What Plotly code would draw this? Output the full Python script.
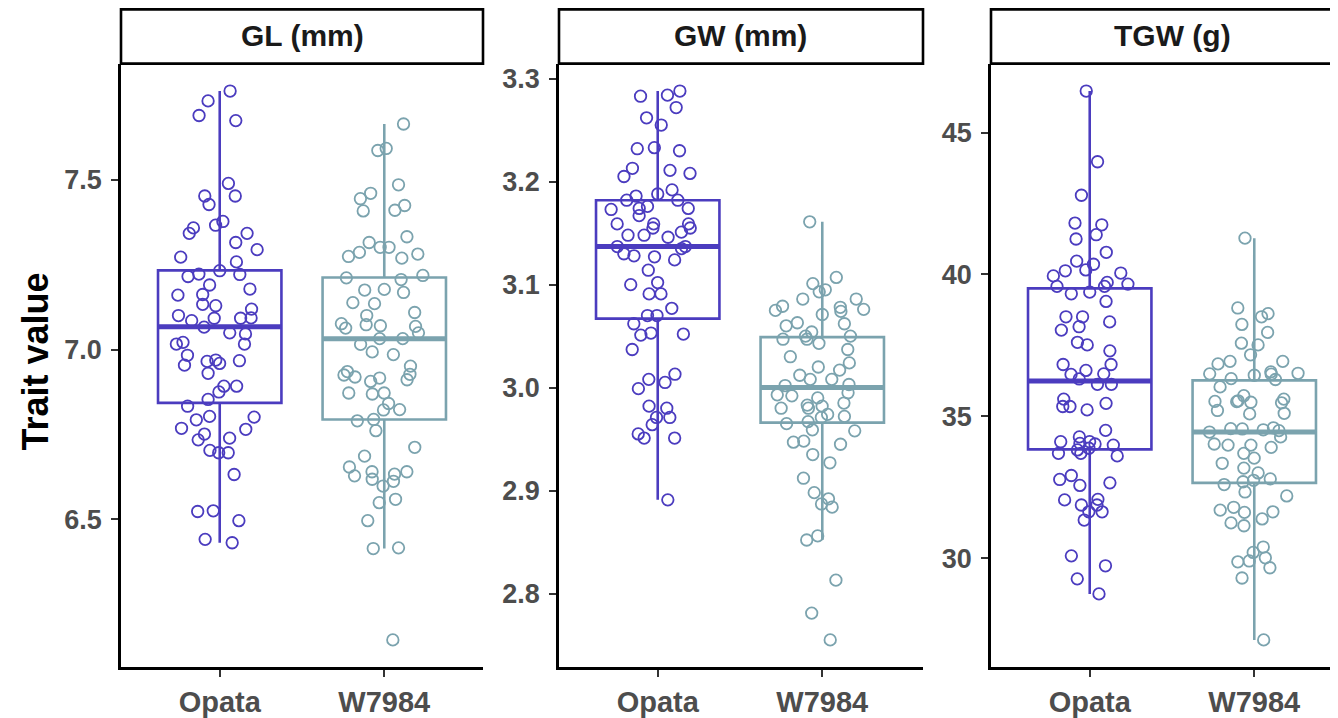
import plotly.graph_objects as go

FONT = "Liberation Sans, Arial, sans-serif"

groups = ["Opata", "W7984"]
colors = ["#4B3CBF", "#7BA3AE"]
traits = ["GL (mm)", "GW (mm)", "TGW (g)"]

gl_opata = [7.761, 7.732, 7.689, 7.674, 7.489, 7.452, 7.452, 7.427, 7.366, 7.377,
            7.342, 7.358, 7.342, 7.315, 7.294, 7.272, 7.258, 7.232, 7.221, 7.222,
            7.215, 7.190, 7.178, 7.160, 7.162, 7.129, 7.133, 7.119, 7.100, 7.092,
            7.092, 7.085, 7.093, 7.066, 7.046, 7.049, 7.021, 7.016, 7.016, 6.965,
            6.954, 6.930, 6.959, 6.969, 6.967, 6.983, 6.892, 6.892, 6.875, 6.853,
            6.833, 6.801, 6.803, 6.793, 6.765, 6.768, 6.751, 6.734, 6.739, 6.696,
            6.696, 6.703, 6.632, 6.525, 6.523, 6.496, 6.441, 6.431]
gl_w7984 = [7.664, 7.586, 7.592, 7.485, 7.460, 7.444, 7.424, 7.408, 7.410, 7.332,
            7.315, 7.301, 7.286, 7.281, 7.274, 7.269, 7.301, 7.206, 7.211, 7.218,
            7.175, 7.177, 7.168, 7.135, 7.138, 7.109, 7.100, 7.063, 7.070, 7.076,
            7.068, 7.073, 7.049, 7.032, 7.015, 7.032, 6.993, 6.985, 6.951, 6.925,
            6.927, 6.919, 6.935, 6.911, 6.906, 6.916, 6.872, 6.841, 6.869, 6.872,
            6.823, 6.822, 6.794, 6.790, 6.761, 6.712, 6.686, 6.640, 6.654, 6.640,
            6.612, 6.633, 6.628, 6.618, 6.598, 6.559, 6.549, 6.496, 6.414, 6.416,
            6.145]
gw_opata = [3.283, 3.284, 3.288, 3.272, 3.262, 3.255, 3.230, 3.233, 3.232, 3.213,
            3.211, 3.208, 3.205, 3.192, 3.188, 3.186, 3.182, 3.182, 3.173, 3.176,
            3.174, 3.174, 3.167, 3.159, 3.159, 3.155, 3.151, 3.159, 3.155, 3.148,
            3.148, 3.146, 3.137, 3.137, 3.135, 3.128, 3.130, 3.124, 3.127, 3.114,
            3.102, 3.100, 3.091, 3.091, 3.077, 3.070, 3.070, 3.062, 3.053, 3.051,
            3.052, 3.037, 3.013, 3.008, 3.005, 2.999, 2.980, 2.982, 2.971, 2.971,
            2.964, 2.951, 2.955, 2.951, 2.891]
gw_w7984 = [3.161, 3.107, 3.101, 3.095, 3.093, 3.086, 3.086, 3.079, 3.078, 3.071,
            3.074, 3.076, 3.075, 3.062, 3.063, 3.060, 3.054, 3.047, 3.050, 3.050,
            3.043, 3.047, 3.037, 3.030, 3.024, 3.020, 3.017, 3.012, 3.008, 3.008,
            3.003, 3.002, 2.995, 2.993, 2.992, 2.990, 2.985, 2.980, 2.980, 2.982,
            2.983, 2.971, 2.974, 2.972, 2.965, 2.967, 2.959, 2.958, 2.948, 2.945,
            2.947, 2.935, 2.927, 2.912, 2.898, 2.892, 2.887, 2.884, 2.856, 2.852,
            2.813, 2.781, 2.755]
tgw_opata = [46.46, 43.97, 42.79, 41.75, 41.40, 41.81, 41.25, 40.78, 40.47, 40.36,
             40.13, 40.16, 39.95, 40.05, 39.72, 39.66, 39.58, 39.58, 39.38, 39.32,
             39.05, 38.33, 38.16, 38.51, 38.51, 38.04, 37.61, 37.52, 37.31, 36.62,
             36.83, 36.83, 36.50, 36.48, 36.32, 36.13, 36.13, 35.46, 35.61, 35.35,
             35.23, 35.35, 34.51, 34.28, 34.11, 34.03, 34.05, 34.11, 33.99, 33.88,
             33.82, 33.70, 33.61, 33.70, 32.66, 32.57, 32.92, 32.78, 32.06, 31.88,
             31.64, 31.64, 32.08, 31.88, 31.35, 30.09, 29.74, 29.28, 28.75]
tgw_w7984 = [41.28, 38.82, 38.51, 38.62, 38.24, 37.96, 37.58, 37.52, 37.17, 36.85,
             36.94, 36.94, 36.57, 36.50, 36.52, 36.49, 36.45, 36.30, 36.33, 36.04,
             35.73, 35.61, 35.21, 35.09, 35.50, 35.48, 35.52, 35.53, 35.55, 35.11,
             34.45, 34.56, 34.60, 34.50, 34.53, 34.57, 34.28, 34.03, 33.70, 33.99,
             33.91, 33.99, 33.53, 33.18, 33.35, 33.01, 32.80, 32.75, 32.70, 32.60,
             32.34, 32.20, 31.64, 31.62, 31.80, 31.70, 31.25, 31.15, 31.39, 30.40,
             30.21, 29.91, 29.67, 30.02, 29.88, 29.31, 27.13]

# ---- box summary statistics: [Opata, W7984] ----
gl_q1 = [6.843, 6.794]
gl_median = [7.067, 7.032]
gl_q3 = [7.233, 7.212]
gl_lower = [6.431, 6.414]
gl_upper = [7.761, 7.664]

gw_q1 = [3.067, 2.966]
gw_median = [3.137, 3.000]
gw_q3 = [3.182, 3.049]
gw_lower = [2.891, 2.852]
gw_upper = [3.288, 3.161]

tgw_q1 = [33.84, 32.66]
tgw_median = [36.25, 34.45]
tgw_q3 = [39.51, 36.27]
tgw_lower = [28.75, 27.13]
tgw_upper = [46.46, 41.28]

gl_ticks = [6.5, 7.0, 7.5]
gw_ticks = [2.8, 2.9, 3.0, 3.1, 3.2, 3.3]
tgw_ticks = [30, 35, 40, 45]

panels = [
    dict(samples=[gl_opata, gl_w7984], q1=gl_q1, med=gl_median, q3=gl_q3,
         lo=gl_lower, hi=gl_upper, ticks=gl_ticks, fmt=".1f"),
    dict(samples=[gw_opata, gw_w7984], q1=gw_q1, med=gw_median, q3=gw_q3,
         lo=gw_lower, hi=gw_upper, ticks=gw_ticks, fmt=".1f"),
    dict(samples=[tgw_opata, tgw_w7984], q1=tgw_q1, med=tgw_median, q3=tgw_q3,
         lo=tgw_lower, hi=tgw_upper, ticks=tgw_ticks, fmt="d"),
]

# The page body adds an 8px margin, so the figure is drawn 8px smaller and
# all target page-pixel positions are shifted by that offset.
OFF = 8
W, H = 1338 - OFF, 718 - OFF
px_left = [121, 559, 991]
px_right = [483, 923, 1338]
strip_right = [483, 923, 1354]
top_px, bot_px, strip_top_px = 64, 672, 8
unit_px = 362 / 2.2


def fx(px):
    return (px - OFF) / W


def fy(py):
    return (H - (py - OFF)) / H


fig = go.Figure()
CLEAR = "rgba(0,0,0,0)"

for p, pan in enumerate(panels):
    xa = "x" if p == 0 else f"x{p+1}"
    ya = "y" if p == 0 else f"y{p+1}"
    for g in range(2):
        c = colors[g]
        fig.add_trace(go.Box(
            x=[groups[g]], q1=[pan["q1"][g]], median=[pan["med"][g]], q3=[pan["q3"][g]],
            lowerfence=[pan["lo"][g]], upperfence=[pan["hi"][g]],
            width=0.75, whiskerwidth=0, boxpoints=False,
            line=dict(color=c, width=2.6), fillcolor=CLEAR,
            xaxis=xa, yaxis=ya, showlegend=False, hoverinfo="skip"))
        m = pan["med"][g]
        fig.add_trace(go.Box(
            x=[groups[g]], q1=[m], median=[m], q3=[m], lowerfence=[m], upperfence=[m],
            width=0.75, whiskerwidth=0, boxpoints=False,
            line=dict(color=c, width=5), fillcolor=CLEAR,
            xaxis=xa, yaxis=ya, showlegend=False, hoverinfo="skip"))
    for g in range(2):
        c = colors[g]
        s = pan["samples"][g]
        fig.add_trace(go.Box(
            x=[groups[g]] * len(s), y=s,
            boxpoints="all", jitter=0.85, pointpos=0, width=0.75, whiskerwidth=0,
            line=dict(color=CLEAR, width=0), fillcolor=CLEAR,
            marker=dict(symbol="circle-open", size=11.5, color=c,
                        line=dict(width=1.8, color=c)),
            xaxis=xa, yaxis=ya, showlegend=False, name=groups[g]))

    allv = pan["samples"][0] + pan["samples"][1]
    lo, hi = min(allv), max(allv)
    pad = 0.05 * (hi - lo)
    xr_right = (px_right[p] - px_left[p]) / unit_px - 0.6
    xdom = [fx(px_left[p]), min(1.0, fx(px_right[p]))]
    ydom = [fy(bot_px), fy(top_px)]
    xkey = "xaxis" if p == 0 else f"xaxis{p+1}"
    ykey = "yaxis" if p == 0 else f"yaxis{p+1}"
    fig.layout[xkey] = dict(
        domain=xdom, anchor=ya, type="category", categoryorder="array",
        categoryarray=groups, range=[-0.6, xr_right],
        showline=True, linecolor="black", linewidth=2.6,
        ticks="outside", ticklen=7, tickwidth=2.2, tickcolor="#333333",
        tickfont=dict(family=FONT, size=29, color="#4D4D4D", weight="bold"),
        showgrid=False, zeroline=False, fixedrange=True)
    fig.layout[ykey] = dict(
        domain=ydom, anchor=xa, range=[lo - pad, hi + pad],
        tickvals=pan["ticks"], tickformat=pan["fmt"],
        showline=True, linecolor="black", linewidth=2.6,
        ticks="outside", ticklen=7, tickwidth=2.2, tickcolor="#333333",
        ticklabelstandoff=4,
        tickfont=dict(family=FONT, size=27, color="#4D4D4D", weight="bold"),
        showgrid=False, zeroline=False, fixedrange=True)

    fig.add_shape(type="rect", xref="paper", yref="paper",
                  x0=fx(px_left[p]), x1=fx(strip_right[p]),
                  y0=fy(top_px), y1=fy(strip_top_px) - 0.002,
                  line=dict(color="black", width=2.6), fillcolor="white", layer="below")
    fig.add_annotation(xref="paper", yref="paper",
                       x=fx((px_left[p] + strip_right[p]) / 2),
                       y=fy((top_px + 7) / 2),
                       text=traits[p], showarrow=False,
                       font=dict(family=FONT, size=30, color="#1A1A1A", weight="bold"),
                       xanchor="center", yanchor="middle")

fig.add_annotation(xref="paper", yref="paper", x=fx(35), y=fy(364),
                   text="Trait value", textangle=-90, showarrow=False,
                   font=dict(family=FONT, size=36, color="black", weight="bold"),
                   xanchor="center", yanchor="middle")

fig.update_layout(
    width=W, height=H, margin=dict(l=0, r=0, t=0, b=0),
    paper_bgcolor="white", plot_bgcolor="white", showlegend=False,
    boxmode="overlay")

fig.write_html("out.html")
